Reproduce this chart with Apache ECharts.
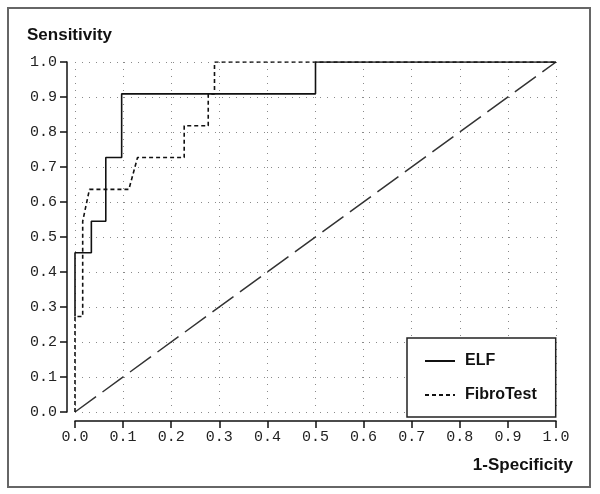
<!DOCTYPE html>
<html style="height: 100%">
<head>
<meta charset="utf-8">
<script src="https://cdn.jsdelivr.net/npm/echarts@6/dist/echarts.min.js"></script>
</head>
<body style="height: 100%; margin: 0; background: #fff">
<div id="container" style="width: 600px; height: 494px"></div>
<script type="text/javascript">
// ROC points (x = 1-specificity, y = sensitivity)
var elfX = [0, 0, 0.034, 0.034, 0.064, 0.064, 0.097, 0.097, 0.5, 0.5, 1.0];
var elfY = [0.273, 0.455, 0.455, 0.545, 0.545, 0.727, 0.727, 0.909, 0.909, 1.0, 1.0];
var fibroX = [0, 0, 0.016, 0.016, 0.03, 0.112, 0.13, 0.227, 0.227, 0.277, 0.277, 0.29, 0.29, 1.0];
var fibroY = [0, 0.273, 0.273, 0.545, 0.636, 0.636, 0.727, 0.727, 0.818, 0.818, 0.909, 0.909, 1.0, 1.0];
var refX = [0, 1];
var refY = [0, 1];
var seriesNames = ['ELF', 'FibroTest'];

function pairs(xs, ys) {
    var out = [];
    for (var i = 0; i < xs.length; i++) out.push([xs[i], ys[i]]);
    return out;
}

var myChart = echarts.init(document.getElementById('container'));
var monoLabel = {
    fontFamily: 'Liberation Mono',
    fontSize: 15,
    color: '#222'
};
var dotted = {
    color: '#8a8a8a',
    width: 1,
    type: [1, 6]
};

var option = {
    animation: false,
    backgroundColor: '#fff',
    title: [{
        text: 'Sensitivity',
        left: 27, top: 27,
        padding: 0,
        textStyle: {fontFamily: 'Liberation Sans', fontWeight: 'bold', fontSize: 17, color: '#111'}
    }, {
        text: '1-Specificity',
        right: 27, top: 457,
        padding: 0,
        textStyle: {fontFamily: 'Liberation Sans', fontWeight: 'bold', fontSize: 17, color: '#111'}
    }],
    grid: {left: 75, right: 44, top: 62, bottom: 82},
    legend: {
        data: seriesNames,
        orient: 'vertical',
        left: 407, top: 338,
        padding: [15, 19, 14, 17],
        itemWidth: 30, itemHeight: 14, itemGap: 18,
        backgroundColor: '#fff',
        borderColor: '#222', borderWidth: 1.5, borderRadius: 0,
        itemStyle: {opacity: 0},
        textStyle: {fontFamily: 'Liberation Sans', fontWeight: 'bold', fontSize: 16, color: '#111', padding: [0, 0, 0, 5]}
    },
    xAxis: {
        type: 'value', min: 0, max: 1, interval: 0.1,
        offset: 9,
        axisLine: {show: true, onZero: false, lineStyle: {color: '#111', width: 1.5}},
        axisTick: {show: true, length: 7, inside: false, lineStyle: {color: '#111', width: 1.5}},
        axisLabel: Object.assign({margin: 9, formatter: function (v) { return v.toFixed(1); }}, monoLabel),
        splitLine: {show: true, lineStyle: dotted}
    },
    yAxis: {
        type: 'value', min: 0, max: 1, interval: 0.1,
        offset: 8,
        axisLine: {show: true, onZero: false, lineStyle: {color: '#111', width: 1.5}},
        axisTick: {show: true, length: 7, lineStyle: {color: '#111', width: 1.5}},
        axisLabel: Object.assign({margin: 10, formatter: function (v) { return v.toFixed(1); }}, monoLabel),
        splitLine: {show: true, lineStyle: dotted}
    },
    graphic: [{
        type: 'rect',
        shape: {x: 8, y: 8, width: 582, height: 479},
        style: {fill: 'none', stroke: '#666', lineWidth: 2},
        silent: true
    }],
    series: [{
        name: 'reference',
        type: 'line',
        data: pairs(refX, refY),
        symbol: 'none',
        silent: true,
        lineStyle: {color: '#333', width: 1.5, type: [26, 8]}
    }, {
        name: 'ELF',
        type: 'line',
        data: pairs(elfX, elfY),
        symbol: 'none',
        silent: true,
        itemStyle: {color: '#111'},
        lineStyle: {color: '#111', width: 1.6, type: 'solid'}
    }, {
        name: 'FibroTest',
        type: 'line',
        data: pairs(fibroX, fibroY),
        symbol: 'none',
        silent: true,
        itemStyle: {color: '#111'},
        lineStyle: {color: '#111', width: 1.6, type: [4, 3]}
    }]
};
myChart.setOption(option);
</script>
</body>
</html>
